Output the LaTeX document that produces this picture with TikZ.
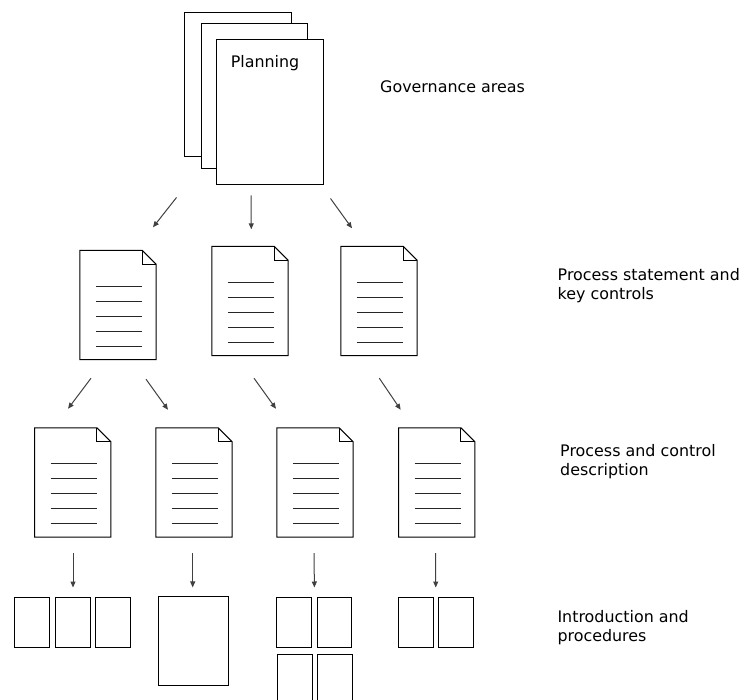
\documentclass[tikz,border=0pt]{standalone}
\usepackage{fontspec}
\setmainfont{DejaVu Sans}
\usetikzlibrary{arrows.meta,calc}

\tikzset{
  sheet/.style={draw, fill=white, line width=1pt, inner sep=0pt},
  page/.style={sheet, minimum width=34.7pt, minimum height=50pt},
  docnode/.style={minimum width=76pt, minimum height=109pt, inner sep=0pt},
  docline/.style={line width=1pt, line join=miter},
  textline/.style={line width=1.1pt, black!85},
  arr/.style={-{Triangle[length=6pt,width=5pt]}, line width=1pt, black!75},
  lbl/.style={anchor=base west, align=left, inner sep=0pt, font={\fontsize{15.9}{19}\selectfont}}
}

\begin{document}
\begin{tikzpicture}[x=1pt, y=-1pt]
% Page size in pixels
\useasboundingbox (0,0) rectangle (754,700);
\clip (0,0) rectangle (754,700);

% Folded document with five text lines
\def\docicon#1{%
  \draw[docline] (#1.south west) -- (#1.north west) -- ([xshift=-14pt]#1.north east) -- ([yshift=-14pt]#1.north east) -- (#1.south east) -- cycle;
  \draw[docline] ([xshift=-14pt]#1.north east) |- ([yshift=-14pt]#1.north east);
  \foreach \k in {0,...,4}
    \draw[textline] ([xshift=16pt,yshift=-36pt-\k*15pt]#1.north west) -- ++(46,0);
}

% Governance areas stack
\node[sheet, minimum width=107pt, minimum height=144pt] (back) at (237.5,85) {};
\node[sheet, minimum width=106pt, minimum height=145pt] (mid) at (254,96.5) {};
\node[sheet, minimum width=107pt, minimum height=145pt] (plan) at (269.5,112.5) {};
\node[anchor=base, inner sep=0pt, font={\fontsize{15.9}{19}\selectfont}] (plantitle) at (265,68) {Planning};

% Process statements
\node[docnode] (pd1) at (118,305) {};
\node[docnode] (pd2) at (250,301) {};
\node[docnode] (pd3) at (379,301) {};
\docicon{pd1}
\docicon{pd2}
\docicon{pd3}

% Process descriptions
\node[docnode] (pc1) at (72.7,482.5) {};
\node[docnode] (pc2) at (194,482.5) {};
\node[docnode] (pc3) at (315,482.5) {};
\node[docnode] (pc4) at (436.7,482.5) {};
\docicon{pc1}
\docicon{pc2}
\docicon{pc3}
\docicon{pc4}

% Procedures
\node[page] (a1) at (32,622) {};
\node[page] (a2) at (72.7,622) {};
\node[page] (a3) at (113.2,622) {};
\node[sheet, minimum width=70.3pt, minimum height=88.7pt] (b1) at (193.8,641.3) {};
\node[page] (c1) at (294.3,622) {};
\node[page] (c2) at (334.5,622) {};
\node[page] (c3) at (295,679) {};
\node[page] (c4) at (335.2,679) {};
\node[page] (d1) at (415.8,622) {};
\node[page] (d2) at (455.7,622) {};

% Arrows
\draw[arr] ($(plan.south west)+(-39,12)$) -- ($(pd1.north)+(35,-23)$);
\draw[arr] ($(plan.south)+(-18.5,10)$) -- ($(pd2.north)+(1.3,-17)$);
\draw[arr] ($(plan.south east)+(7,13)$) -- ($(pd3.north)+(-27,-18)$);

\draw[arr] ($(pd1.south)+(-27,18.5)$) -- ($(pc1.north)+(-4.7,-19)$);
\draw[arr] ($(pd1.south)+(28,19.5)$) -- ($(pc2.north)+(-26,-18)$);
\draw[arr] ($(pd2.south)+(4,22.5)$) -- ($(pc3.north)+(-39,-19)$);
\draw[arr] ($(pd3.south)+(0.3,22.5)$) -- ($(pc4.north)+(-36,-18)$);

\draw[arr] ($(pc1.south)+(0.3,16)$) -- ($(a2.north)+(0.3,-9)$);
\draw[arr] ($(pc2.south)+(-1.3,16)$) -- ($(b1.north)+(-1.1,-9)$);
\draw[arr] ($(pc3.south)+(-1,16)$) -- ($(c1.north east)!.5!(c2.north west)+(0,-9)$);
\draw[arr] ($(pc4.south)+(-1,16)$) -- ($(d1.north east)!.5!(d2.north west)+(0,-9)$);

% Level labels
\node[lbl] (lgov) at (380,93) {Governance areas};
\node[lbl] (lstat) at (557.5,299) {Process statement and\\key controls};
\node[lbl] (ldesc) at (560,475) {Process and control\\description};
\node[lbl] (lproc) at (557.3,641) {Introduction and\\procedures};
\end{tikzpicture}
\end{document}
